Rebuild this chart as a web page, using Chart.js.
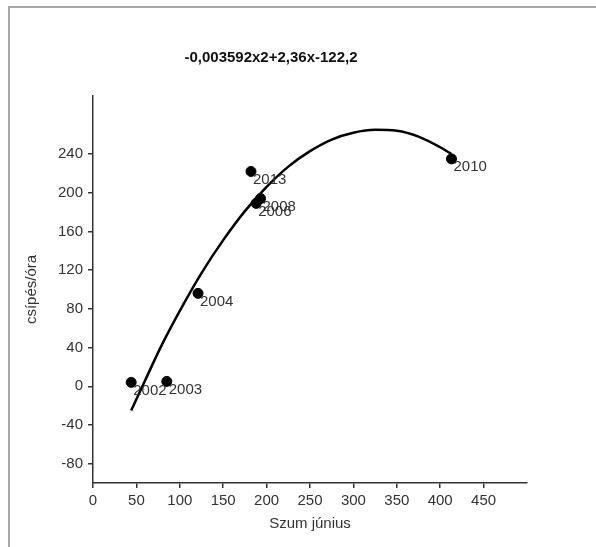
<!DOCTYPE html>
<html>
<head>
<meta charset="utf-8">
<script src="https://cdn.jsdelivr.net/npm/chart.js@4.4.1/dist/chart.umd.min.js"></script>
<style>
  html, body { margin: 0; padding: 0; background: #fff; }
  canvas { display: block; }
</style>
</head>
<body>
<canvas id="c" width="596" height="547"></canvas>
<script>
// ---- data ----
const years = ['2002', '2003', '2004', '2013', '2006', '2008', '2010'];
const sumJune = [44, 85, 121, 182, 188, 193, 413];
const bitesPerHour = [4, 5, 96, 222, 189, 194, 235];

// fitted trend curve
const curveX = [44, 60, 80, 100, 125, 150, 175, 200, 225, 250, 275, 300, 325, 350, 375, 400, 413];
const curveY = [-25, 6, 44, 78, 117, 151, 181, 206, 227, 243, 255, 262, 265, 264, 258, 247, 240];

const xTicks = [0, 50, 100, 150, 200, 250, 300, 350, 400, 450];
const yTicks = [-80, -40, 0, 40, 80, 120, 160, 200, 240];

const titleText = '-0,003592x2+2,36x-122,2';
const xTitle = 'Szum június';
const yTitle = 'csípés/óra';

const FONT = "'Liberation Sans', Arial, sans-serif";

const points = sumJune.map((x, i) => ({ x: x, y: bitesPerHour[i] }));
const curve = curveX.map((x, i) => ({ x: x, y: curveY[i] }));

const framePlugin = {
  id: 'frame',
  beforeDraw(chart) {
    const ctx = chart.ctx;
    ctx.save();
    ctx.fillStyle = '#ffffff';
    ctx.fillRect(0, 0, chart.width, chart.height);
    ctx.strokeStyle = '#a8a8a8';
    ctx.lineWidth = 2;
    ctx.beginPath();
    ctx.moveTo(9, chart.height);
    ctx.lineTo(9, 7);
    ctx.lineTo(chart.width, 7);
    ctx.stroke();
    ctx.fillStyle = '#111';
    ctx.font = 'bold 15px ' + FONT;
    ctx.textAlign = 'center';
    ctx.textBaseline = 'middle';
    ctx.fillText(titleText, 271, 58);
    ctx.restore();
  }
};

const labelPlugin = {
  id: 'pointLabels',
  afterDatasetsDraw(chart) {
    const ctx = chart.ctx;
    const xs = chart.scales.x, ys = chart.scales.y;
    ctx.save();
    ctx.fillStyle = '#333';
    ctx.font = '15px ' + FONT;
    ctx.textAlign = 'left';
    ctx.textBaseline = 'middle';
    points.forEach((p, i) => {
      ctx.fillText(years[i], xs.getPixelForValue(p.x) + 2, ys.getPixelForValue(p.y) + 8);
    });
    ctx.restore();
  }
};

new Chart(document.getElementById('c'), {
  type: 'scatter',
  data: {
    datasets: [
      {
        type: 'line',
        data: curve,
        borderColor: '#000',
        borderWidth: 2.5,
        pointRadius: 0,
        fill: false,
        cubicInterpolationMode: 'monotone'
      },
      {
        type: 'scatter',
        data: points,
        backgroundColor: '#000',
        borderColor: '#000',
        pointRadius: 5,
        pointHoverRadius: 5
      }
    ]
  },
  options: {
    responsive: false,
    animation: false,
    devicePixelRatio: 1,
    layout: { padding: { top: 96, right: 69, bottom: 0, left: 0 } },
    plugins: {
      legend: { display: false },
      title: { display: false },
      tooltip: { enabled: false }
    },
    scales: {
      x: {
        type: 'linear',
        min: 0,
        max: 500,
        afterBuildTicks(scale) { scale.ticks = xTicks.map(v => ({ value: v })); },
        afterFit(scale) { scale.height = 64; },
        grid: { display: true, drawOnChartArea: false, drawTicks: true, tickLength: 5, color: '#333', lineWidth: 1.5 },
        border: { display: true, color: '#333', width: 1.5 },
        ticks: { color: '#333', font: { family: FONT, size: 15 }, padding: 4, maxRotation: 0, autoSkip: false },
        title: { display: true, text: xTitle, color: '#333', font: { family: FONT, size: 15 }, padding: { top: 0, bottom: 14 } }
      },
      y: {
        type: 'linear',
        min: -100,
        max: 300,
        afterBuildTicks(scale) { scale.ticks = yTicks.map(v => ({ value: v })); },
        afterFit(scale) { scale.width = 93; },
        grid: { display: true, drawOnChartArea: false, drawTicks: true, tickLength: 5, color: '#333', lineWidth: 1.5 },
        border: { display: true, color: '#333', width: 1.5 },
        ticks: { color: '#333', font: { family: FONT, size: 15 }, padding: 5, autoSkip: false },
        title: { display: true, text: yTitle, color: '#333', font: { family: FONT, size: 15 }, padding: { top: 23, bottom: 0 } }
      }
    }
  },
  plugins: [framePlugin, labelPlugin]
});
</script>
</body>
</html>
